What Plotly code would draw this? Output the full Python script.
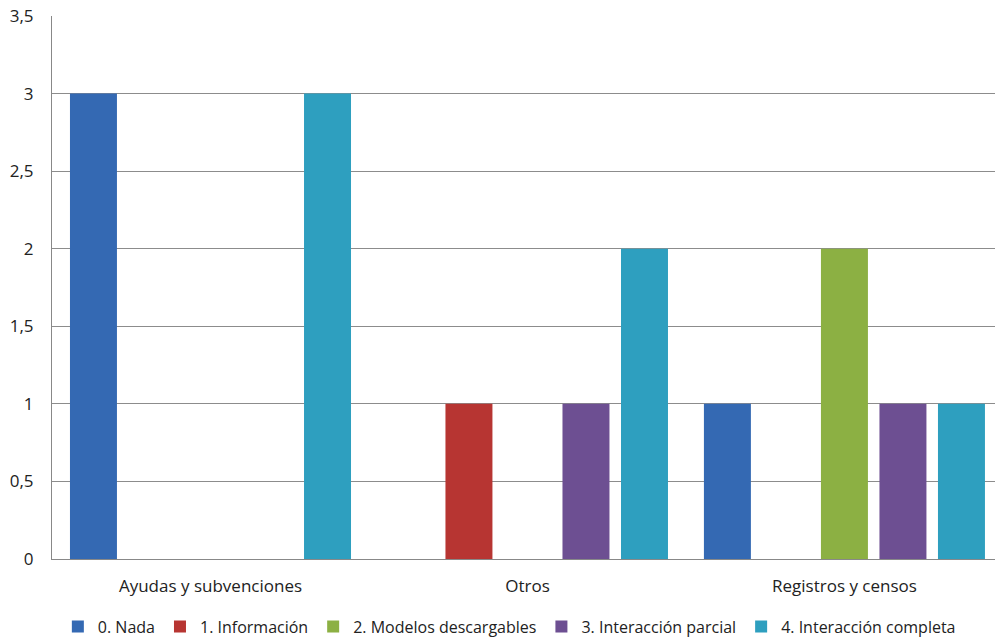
import plotly.graph_objects as go

categories = ["Ayudas y subvenciones", "Otros", "Registros y censos"]
series_names = ["0. Nada", "1. Información", "2. Modelos descargables",
                "3. Interacción parcial", "4. Interacción completa"]
nada = [3, 0, 1]
informacion = [0, 1, 0]
modelos = [0, 0, 2]
parcial = [0, 1, 1]
completa = [3, 2, 1]
series_values = [nada, informacion, modelos, parcial, completa]
colors = ["#3469b3", "#b73532", "#8cb043", "#6d4f92", "#2e9fbf"]
y_ticks = [0, 0.5, 1, 1.5, 2, 2.5, 3, 3.5]

font_family = "Open Sans, Noto Sans, Liberation Sans, sans-serif"

fig = go.Figure()
for name, vals, col in zip(series_names, series_values, colors):
    fig.add_trace(go.Bar(
        x=categories, y=vals, name=name,
        marker=dict(color=col, line=dict(width=0)),
    ))

fig.update_layout(
    width=995, height=640,
    margin=dict(l=52, r=0, t=16, b=81, autoexpand=False),
    paper_bgcolor="white", plot_bgcolor="white",
    barmode="group", bargap=0.077, bargroupgap=0.197,
    separators=",.",
    font=dict(family=font_family, size=17, color="#222222"),
    showlegend=True,
    legend=dict(orientation="h", x=0.485, xanchor="center",
                yref="container", y=0.021, yanchor="middle",
                font=dict(size=16, color="#222222"), itemwidth=30,
                traceorder="normal"),
)
fig.update_xaxes(
    range=[-0.5, 2.475],
    showgrid=False, showline=True, linecolor="#888888", linewidth=1,
    ticks="", tickfont=dict(size=17), ticklabelstandoff=12, automargin=False,
)
fig.update_yaxes(
    range=[0, 3.5], tickvals=y_ticks, showgrid=True, gridcolor="#8c8c8c",
    gridwidth=1, showline=True, linecolor="#888888", linewidth=1,
    ticks="", tickfont=dict(size=17), ticklabelstandoff=14, zeroline=False,
    automargin=False,
)

fig.write_html(
    "out.html",
    config={"displayModeBar": False},
    post_script="document.body.style.margin='0';document.body.style.overflow='hidden';",
)
